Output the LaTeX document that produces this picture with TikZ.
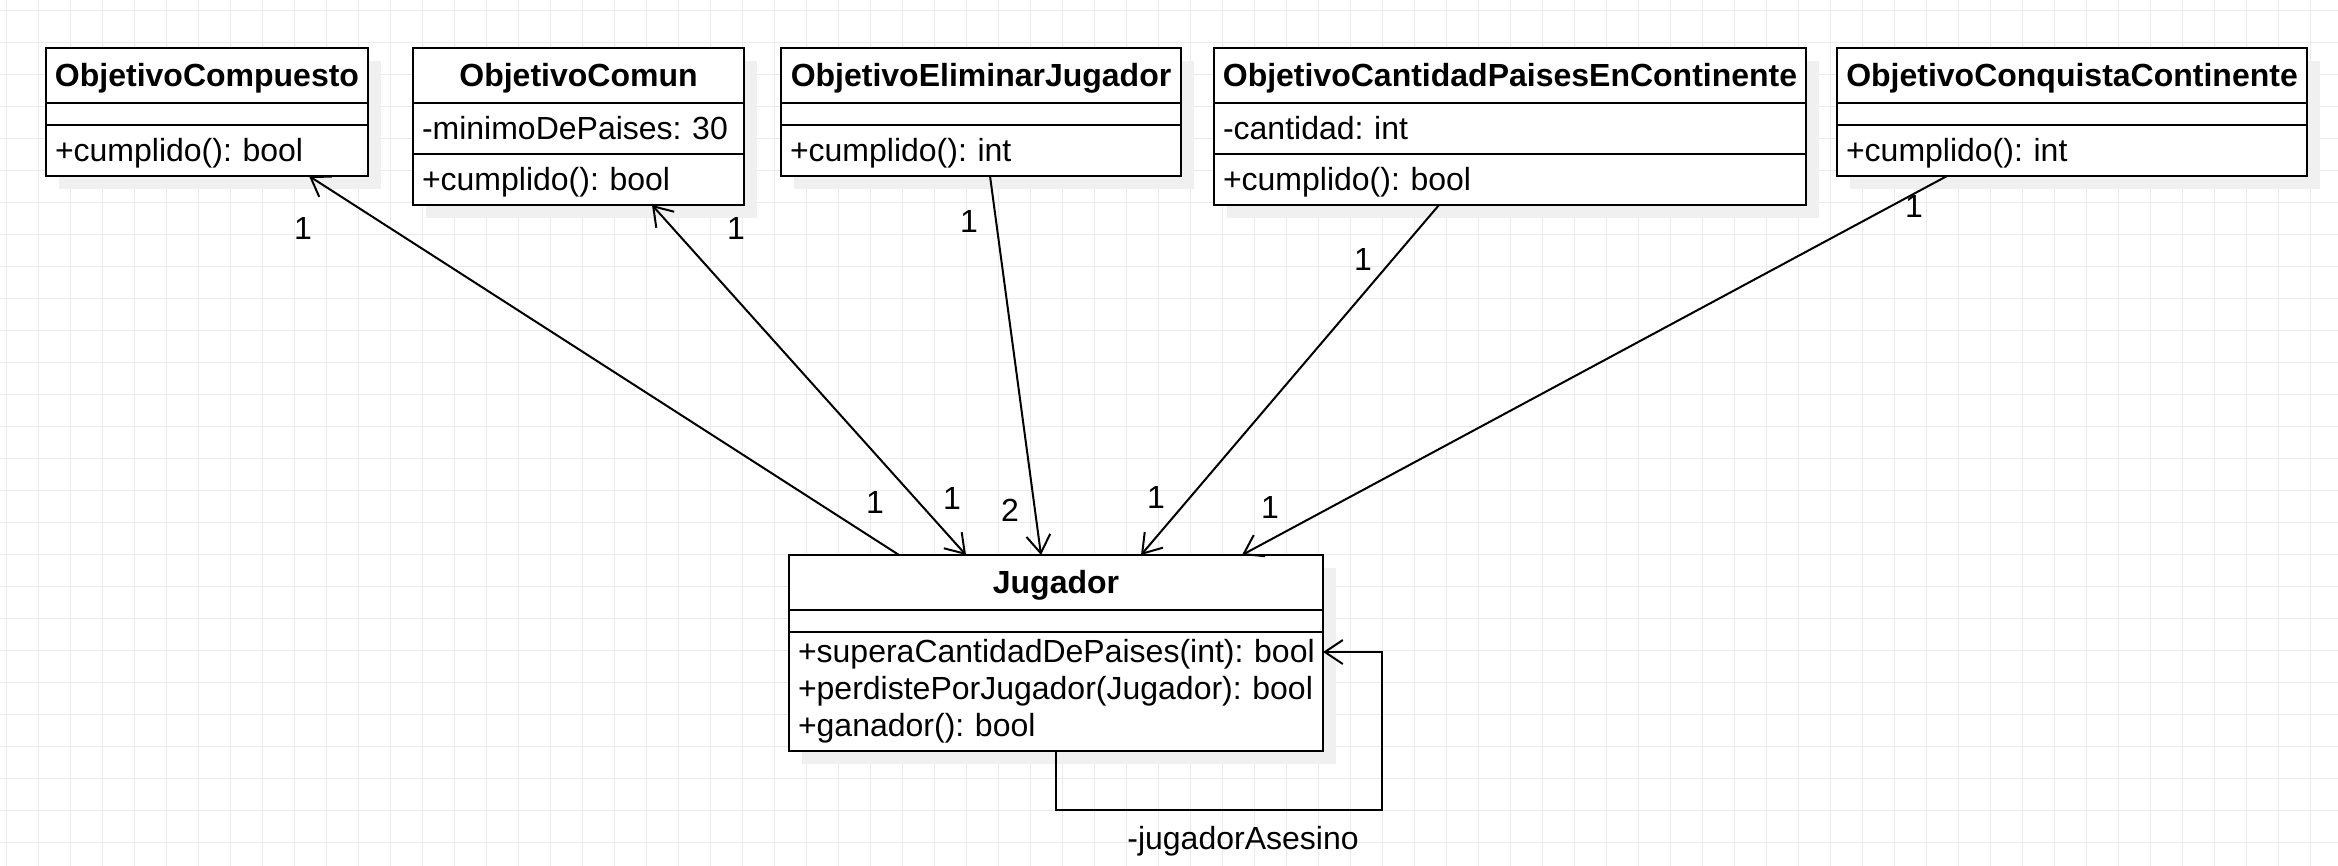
\documentclass[tikz,border=0pt]{standalone}
\usepackage{fontspec}
\setmainfont{Liberation Sans}
\usetikzlibrary{positioning,arrows.meta,shadows}
\definecolor{gridgray}{RGB}{235,235,235}
\definecolor{shadowgray}{RGB}{240,240,240}

\begin{document}
\begin{tikzpicture}[x=0.5pt, y=-0.5pt,
    >={Straight Barb[length=9pt, width=12pt]},
    gridline/.style={draw=gridgray, line width=0.5pt},
    clsshadow/.style={drop shadow={shadow xshift=6.5pt, shadow yshift=-6.5pt, fill=shadowgray, opacity=1}},
    clshead/.style={draw, fill=white, line width=1pt, outer sep=0pt, inner sep=0pt,
      minimum width=#1, minimum height=27.5pt, text depth=1pt,
      font=\fontsize{16}{18.4}\selectfont\frenchspacing\bfseries, clsshadow},
    clsbody/.style={draw, fill=white, line width=1pt, outer sep=0pt,
      inner xsep=4.5pt, inner ysep=0pt, text width=#1, align=left,
      font=\fontsize{16}{18.4}\selectfont\frenchspacing, clsshadow},
    clsline/.style={clsbody=#1, text depth=1pt},
    mult/.style={font=\fontsize{16}{18.4}\selectfont\frenchspacing, inner sep=0pt},
    assoc/.style={line width=1pt}]
  \useasboundingbox (0,0) rectangle (2338,866);
  \fill[white] (0,0) rectangle (2338,866);
  % grid
  \foreach \gx in {0,...,72}
    \draw[gridline] (6.3+32*\gx,0) -- (6.3+32*\gx,866);
  \foreach \gy in {0,...,26}
    \draw[gridline] (0,10.3+32*\gy) -- (2338,10.3+32*\gy);

  % classes
  \node[clshead=161pt, anchor=north west] (comp) at (46,48) {ObjetivoCompuesto};
  \node[clsbody=152pt, minimum height=11pt, below=0pt of comp] (comp-a) {};
  \node[clsline=152pt, minimum height=25.5pt, below=0pt of comp-a] (comp-m) {+cumplido(): bool};

  \node[clshead=165.5pt, anchor=north west] (comun) at (413,48) {ObjetivoComun};
  \node[clsline=156.5pt, minimum height=25.5pt, below=0pt of comun] (comun-a) {-minimoDePaises: 30};
  \node[clsline=156.5pt, minimum height=25.5pt, below=0pt of comun-a] (comun-m) {+cumplido(): bool};

  \node[clshead=200pt, anchor=north west] (elim) at (781,48) {ObjetivoEliminarJugador};
  \node[clsbody=191pt, minimum height=11pt, below=0pt of elim] (elim-a) {};
  \node[clsline=191pt, minimum height=25.5pt, below=0pt of elim-a] (elim-m) {+cumplido(): int};

  \node[clshead=296pt, anchor=north west] (cant) at (1214,48) {ObjetivoCantidadPaisesEnContinente};
  \node[clsline=287pt, minimum height=25.5pt, below=0pt of cant] (cant-a) {-cantidad: int};
  \node[clsline=287pt, minimum height=25.5pt, below=0pt of cant-a] (cant-m) {+cumplido(): bool};

  \node[clshead=235pt, anchor=north west] (conq) at (1837,48) {ObjetivoConquistaContinente};
  \node[clsbody=226pt, minimum height=11pt, below=0pt of conq] (conq-a) {};
  \node[clsline=226pt, minimum height=25.5pt, below=0pt of conq-a] (conq-m) {+cumplido(): int};

  \node[clshead=267pt, anchor=north west] (jug) at (789,555) {Jugador};
  \node[clsbody=258pt, minimum height=11pt, below=0pt of jug] (jug-a) {};
  \node[clsbody=258pt, minimum height=59.5pt, below=0pt of jug-a] (jug-m)
    {\mbox{+superaCantidadDePaises(int): bool}\\\mbox{+perdistePorJugador(Jugador): bool}\\+ganador(): bool};

  % associations
  \draw[assoc, ->] ([xshift=55pt]jug.north west) -- ([xshift=131.5pt]comp-m.south west);
  \draw[assoc, <->] ([xshift=88.5pt]jug.north west) -- ([xshift=119.5pt]comun-m.south west);
  \draw[assoc, ->] ([xshift=104.5pt]elim-m.south west) -- ([xshift=126pt]jug.north west);
  \draw[assoc, ->] ([xshift=112.5pt]cant-m.south west) -- ([xshift=176pt]jug.north west);
  \draw[assoc, ->] ([xshift=55pt]conq-m.south west) -- ([xshift=226.5pt]jug.north west);
  \draw[assoc, ->] (jug-m.south) -- ++(0pt,-29.5pt)
    -| ([xshift=29.5pt, yshift=-10pt]jug-m.north east) -- ([yshift=-10pt]jug-m.north east);

  % multiplicities
  \node[mult] (m-comp) at (303,228) {1};
  \node[mult] (m-comp-j) at (875,502) {1};
  \node[mult] (m-comun) at (736,228) {1};
  \node[mult] (m-comun-j) at (952,498) {1};
  \node[mult] (m-elim) at (969,221) {1};
  \node[mult] (m-elim-j) at (1010,510) {2};
  \node[mult] (m-cant) at (1363,259) {1};
  \node[mult] (m-cant-j) at (1156,497) {1};
  \node[mult] (m-conq) at (1914,206) {1};
  \node[mult] (m-conq-j) at (1270,507) {1};
  \node[mult] (asesino) at (1243,841) {-jugadorAsesino};
\end{tikzpicture}
\end{document}
